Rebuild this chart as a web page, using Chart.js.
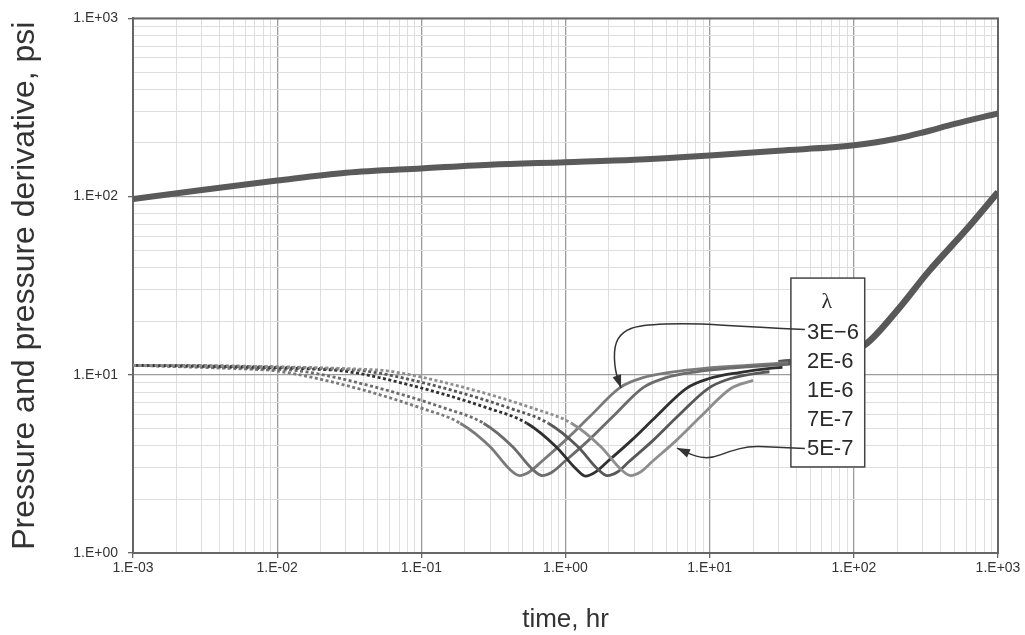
<!DOCTYPE html>
<html>
<head>
<meta charset="utf-8">
<script src="https://cdn.jsdelivr.net/npm/chart.js@4.4.1/dist/chart.umd.min.js"></script>
<style>
  html, body { margin: 0; padding: 0; background: #fff; }
  #chartCanvas { display: block; }
</style>
</head>
<body>
<canvas id="chartCanvas" width="1025" height="635"></canvas>
<script>
// Axis decades and tick labels
const xDecades = [0.001, 0.01, 0.1, 1, 10, 100, 1000];
const xDecadeLabels = ['1.E-03', '1.E-02', '1.E-01', '1.E+00', '1.E+01', '1.E+02', '1.E+03'];
const yDecades = [1, 10, 100, 1000];
const yDecadeLabels = ['1.E+00', '1.E+01', '1.E+02', '1.E+03'];
const minorSteps = [2, 3, 4, 5, 6, 7, 8, 9];

// Pressure (upper curve)
const pressTime = [0.001, 0.003, 0.01, 0.03, 0.1, 0.3, 1, 3, 10, 30, 100, 200, 300, 500, 1000];
const pressVal = [97, 109, 123, 136, 144, 151, 156, 161, 170, 181, 194, 212, 229, 256, 293];

// Pressure derivative, one curve per lambda
const lambdaLabels = ['3E\u22126', '2E-6', '1E-6', '7E-7', '5E-7'];

const der3e6Time = [0.001, 0.003, 0.0065, 0.01, 0.032, 0.1, 0.186, 0.3, 0.41, 0.48, 0.56, 0.68, 1.0, 1.48, 2.4, 3.4, 5.6, 9.5, 18, 35];
const der3e6Val = [11.3, 11.0, 10.75, 10.5, 8.6, 6.5, 5.35, 3.95, 2.95, 2.72, 2.85, 3.25, 4.3, 5.85, 8.5, 9.6, 10.4, 10.9, 11.3, 11.7];

const der2e6Time = [0.001, 0.003, 0.0093, 0.0145, 0.046, 0.145, 0.27, 0.43, 0.59, 0.69, 0.81, 0.98, 1.45, 2.14, 3.47, 4.9, 8.1, 13.8, 26, 35];
const der2e6Val = [11.3, 11.1, 10.75, 10.5, 8.6, 6.5, 5.35, 3.95, 2.95, 2.72, 2.85, 3.25, 4.3, 5.85, 8.5, 9.6, 10.4, 10.9, 11.3, 11.5];

const der1e6Time = [0.001, 0.003, 0.0186, 0.029, 0.091, 0.29, 0.54, 0.86, 1.19, 1.38, 1.62, 1.95, 2.88, 4.27, 6.9, 9.8, 16, 27, 32];
const der1e6Val = [11.3, 11.2, 10.75, 10.5, 8.6, 6.5, 5.35, 3.95, 2.95, 2.7, 2.85, 3.25, 4.3, 5.85, 8.4, 9.5, 10.3, 10.9, 11.0];

const der7e7Time = [0.001, 0.003, 0.026, 0.041, 0.13, 0.41, 0.76, 1.22, 1.68, 1.95, 2.29, 2.75, 4.07, 6.0, 9.8, 13.8, 23, 26];
const der7e7Val = [11.3, 11.25, 10.75, 10.5, 8.6, 6.5, 5.35, 3.95, 2.95, 2.72, 2.85, 3.25, 4.3, 5.85, 8.4, 9.5, 10.3, 10.4];

const der5e7Time = [0.001, 0.003, 0.038, 0.059, 0.186, 0.59, 1.1, 1.76, 2.42, 2.82, 3.31, 3.98, 5.9, 8.7, 14.1, 20];
const der5e7Val = [11.3, 11.25, 10.75, 10.5, 8.6, 6.5, 5.35, 3.95, 2.95, 2.72, 2.85, 3.25, 4.3, 5.85, 8.4, 9.3];

// Late-time derivative (all curves overlap)
const lateTime = [30, 60, 100, 123, 200, 330, 600, 1000];
const lateVal = [11.6, 12.4, 13.8, 15, 23, 38, 65, 106];

// Annotation anchors in data units (hr, psi)
const boxTime = [36.6, 119];
const boxVal = [34.9, 3.04];
const arrow3e6Path = [[21.3, 18.5], [7.3, 19.5], [3.29, 19.0], [2.47, 17.4], [2.17, 14.5], [2.2, 10.6], [2.43, 8.42]];
const arrow5e7Path = [[26.2, 3.93], [19.0, 3.98], [13.8, 3.73], [10.4, 3.41], [8.17, 3.45], [5.93, 3.88]];

const FONT = "'Liberation Sans', Arial, Helvetica, sans-serif";

function pts(t, v) {
  return t.map((x, i) => ({ x, y: v[i] }));
}

function gridTicks(decades) {
  const out = [];
  decades.forEach((d, i) => {
    out.push({ value: d });
    if (i < decades.length - 1) minorSteps.forEach(m => out.push({ value: d * m }));
  });
  return out;
}

function isDecade(v) {
  const l = Math.log10(v);
  return Math.abs(l - Math.round(l)) < 1e-9;
}

function decadeLabel(value, decades, labels) {
  const i = decades.findIndex(d => Math.abs(d - value) / d < 1e-9);
  return i >= 0 ? labels[i] : '';
}

const gridOpts = {
  color: c => (c.tick && isDecade(c.tick.value)) ? '#9c9c9c' : '#dedede',
  lineWidth: c => (c.tick && isDecade(c.tick.value)) ? 1.3 : 1,
  tickColor: c => (c.tick && isDecade(c.tick.value)) ? '#666' : 'rgba(0,0,0,0)',
  tickLength: 5
};

function derivSet(label, t, v, color, dashOffset) {
  return {
    label,
    data: pts(t, v),
    borderColor: color,
    borderWidth: 2.8,
    borderDashOffset: dashOffset,
    segment: {
      // early descent plots as a dotted trail of markers
      borderDash: c => c.p1DataIndex <= 6 ? [3, 2.5] : undefined
    }
  };
}

const framePlugin = {
  id: 'frame',
  beforeDatasetsDraw(chart) {
    const { ctx, chartArea: a } = chart;
    ctx.save();
    ctx.strokeStyle = '#666';
    ctx.lineWidth = 2;
    ctx.strokeRect(a.left, a.top, a.right - a.left, a.bottom - a.top);
    ctx.restore();
  }
};

function drawArrow(ctx, start, path, x, y) {
  const p = [start].concat(path.map(q => [x.getPixelForValue(q[0]), y.getPixelForValue(q[1])]));
  ctx.beginPath();
  ctx.moveTo(p[0][0], p[0][1]);
  for (let i = 1; i < p.length - 1; i++) {
    const mx = (p[i][0] + p[i + 1][0]) / 2, my = (p[i][1] + p[i + 1][1]) / 2;
    ctx.quadraticCurveTo(p[i][0], p[i][1], mx, my);
  }
  const tip = p[p.length - 1], prev = p[p.length - 2];
  ctx.lineTo(tip[0], tip[1]);
  ctx.stroke();
  const ang = Math.atan2(tip[1] - prev[1], tip[0] - prev[0]);
  const len = 13, half = 4.5;
  ctx.beginPath();
  ctx.moveTo(tip[0], tip[1]);
  ctx.lineTo(tip[0] - len * Math.cos(ang) + half * Math.sin(ang), tip[1] - len * Math.sin(ang) - half * Math.cos(ang));
  ctx.lineTo(tip[0] - len * Math.cos(ang) - half * Math.sin(ang), tip[1] - len * Math.sin(ang) + half * Math.cos(ang));
  ctx.closePath();
  ctx.fill();
}

const lambdaBoxPlugin = {
  id: 'lambdaBox',
  afterDatasetsDraw(chart) {
    const { ctx, scales: { x, y } } = chart;
    const L = x.getPixelForValue(boxTime[0]), R = x.getPixelForValue(boxTime[1]);
    const T = y.getPixelForValue(boxVal[0]), B = y.getPixelForValue(boxVal[1]);
    ctx.save();
    ctx.fillStyle = '#fff';
    ctx.fillRect(L, T, R - L, B - T);
    ctx.strokeStyle = '#444';
    ctx.lineWidth = 1.5;
    ctx.strokeRect(L, T, R - L, B - T);

    const rowY = i => T + 54.5 + i * 29;
    ctx.strokeStyle = '#333';
    ctx.fillStyle = '#333';
    ctx.lineWidth = 1.5;
    drawArrow(ctx, [L + 14, rowY(0) - 3], arrow3e6Path, x, y);
    drawArrow(ctx, [L + 14, rowY(4)], arrow5e7Path, x, y);

    ctx.fillStyle = '#2a2a2a';
    ctx.textBaseline = 'middle';
    ctx.textAlign = 'center';
    ctx.font = "22px 'Liberation Serif', 'Times New Roman', serif";
    ctx.fillText('\u03bb', (L + R) / 2 - 1, T + 24);
    ctx.textAlign = 'left';
    ctx.font = '22px ' + FONT;
    lambdaLabels.forEach((lab, i) => ctx.fillText(lab, L + 16, rowY(i)));
    ctx.restore();
  }
};

const canvas = document.getElementById('chartCanvas');
const ctx = canvas.getContext('2d');

const chart = new Chart(ctx, {
  type: 'line',
  data: {
    datasets: [
      { label: 'pressure', data: pts(pressTime, pressVal), borderColor: '#5a5a5a', borderWidth: 6 },
      derivSet(lambdaLabels[4], der5e7Time, der5e7Val, '#8e8e8e', 0),
      derivSet(lambdaLabels[3], der7e7Time, der7e7Val, '#585858', 1.1),
      derivSet(lambdaLabels[2], der1e6Time, der1e6Val, '#303030', 2.2),
      derivSet(lambdaLabels[1], der2e6Time, der2e6Val, '#6c6c6c', 3.3),
      derivSet(lambdaLabels[0], der3e6Time, der3e6Val, '#7a7a7a', 4.4),
      { label: 'late derivative', data: pts(lateTime, lateVal), borderColor: '#585858', borderWidth: 6.5 }
    ]
  },
  options: {
    responsive: false,
    animation: false,
    devicePixelRatio: 1,
    layout: { padding: { left: 0, top: 18, right: 27, bottom: 0 } },
    plugins: { legend: { display: false }, tooltip: { enabled: false } },
    elements: {
      point: { radius: 0 },
      line: { cubicInterpolationMode: 'monotone', borderCapStyle: 'butt' }
    },
    scales: {
      x: {
        type: 'logarithmic',
        min: 0.001,
        max: 1000,
        afterBuildTicks: s => { s.ticks = gridTicks(xDecades); },
        afterFit: s => { s.height = 82; },
        ticks: {
          autoSkip: false, maxRotation: 0, minRotation: 0, padding: 2,
          color: '#333', font: { family: FONT, size: 14 },
          callback: v => decadeLabel(v, xDecades, xDecadeLabels)
        },
        grid: gridOpts,
        border: { color: '#666', width: 2 },
        title: {
          display: true, text: 'time, hr', color: '#333',
          font: { family: FONT, size: 26, lineHeight: 1.2 },
          padding: { top: 0, bottom: 0 }
        }
      },
      y: {
        type: 'logarithmic',
        min: 1,
        max: 1000,
        afterBuildTicks: s => { s.ticks = gridTicks(yDecades); },
        afterFit: s => { s.width = 133; },
        ticks: {
          autoSkip: false, padding: 10,
          color: '#333', font: { family: FONT, size: 14 },
          callback: v => decadeLabel(v, yDecades, yDecadeLabels)
        },
        grid: gridOpts,
        border: { color: '#666', width: 2 },
        title: {
          display: true, text: 'Pressure and pressure derivative, psi', color: '#333',
          font: { family: FONT, size: 32, lineHeight: 1.2 },
          padding: { top: 6, bottom: 0 }
        }
      }
    }
  },
  plugins: [framePlugin, lambdaBoxPlugin]
});
</script>
</body>
</html>
